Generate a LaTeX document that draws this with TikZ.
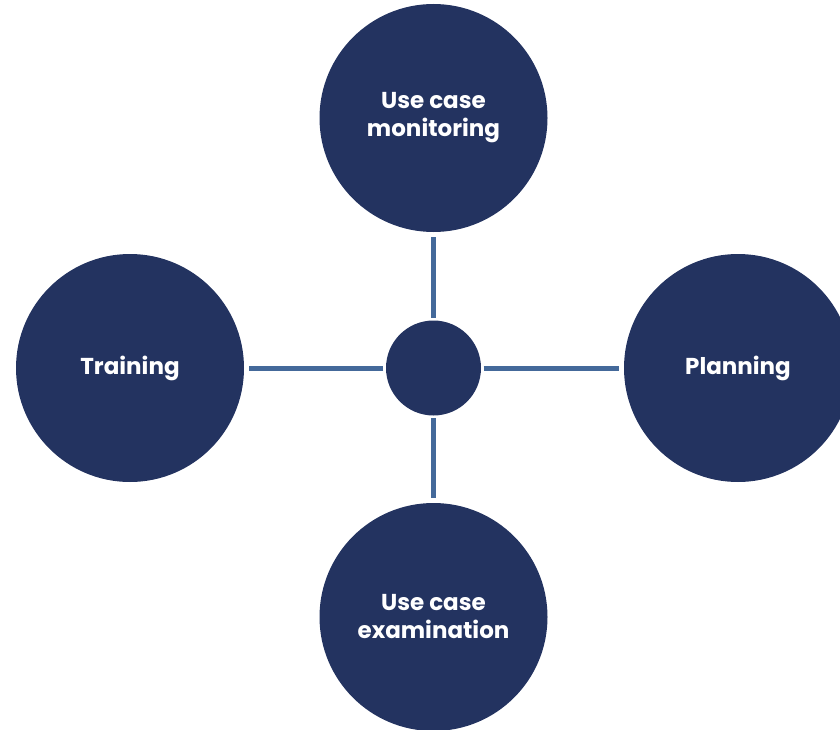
\documentclass[tikz,border=0pt]{standalone}
\usepackage{fontspec}
\setmainfont{Poppins}
\definecolor{navy}{HTML}{233360}
\definecolor{steel}{HTML}{44699A}
\begin{document}
\begin{tikzpicture}[x=1pt,y=-1pt,
  bigc/.style={circle,fill=navy,minimum size=228pt,inner sep=0pt,text=white,align=center,
    font=\fontsize{23}{28}\selectfont\bfseries},
  hubc/.style={circle,fill=navy,minimum size=95pt,inner sep=0pt},
  link/.style={draw=steel,line width=5pt,shorten <=2.5pt,shorten >=5pt}]
\useasboundingbox (0,0) rectangle (840,730);
\clip (0,0) rectangle (840,730);
\node[hubc] (hub) at (433.5,368) {};
\node[bigc] (top) at (433.5,118) {Use case\\monitoring};
\node[bigc] (left) at (130,368) {Training};
\node[bigc] (right) at (738,368) {Planning};
\node[bigc] (bot) at (433.5,617) {Use case\\examination};
\draw[link] (hub) -- (top);
\draw[link] (hub) -- (left);
\draw[link] (hub) -- (right);
\draw[link] (hub) -- (bot);
\end{tikzpicture}
\end{document}
